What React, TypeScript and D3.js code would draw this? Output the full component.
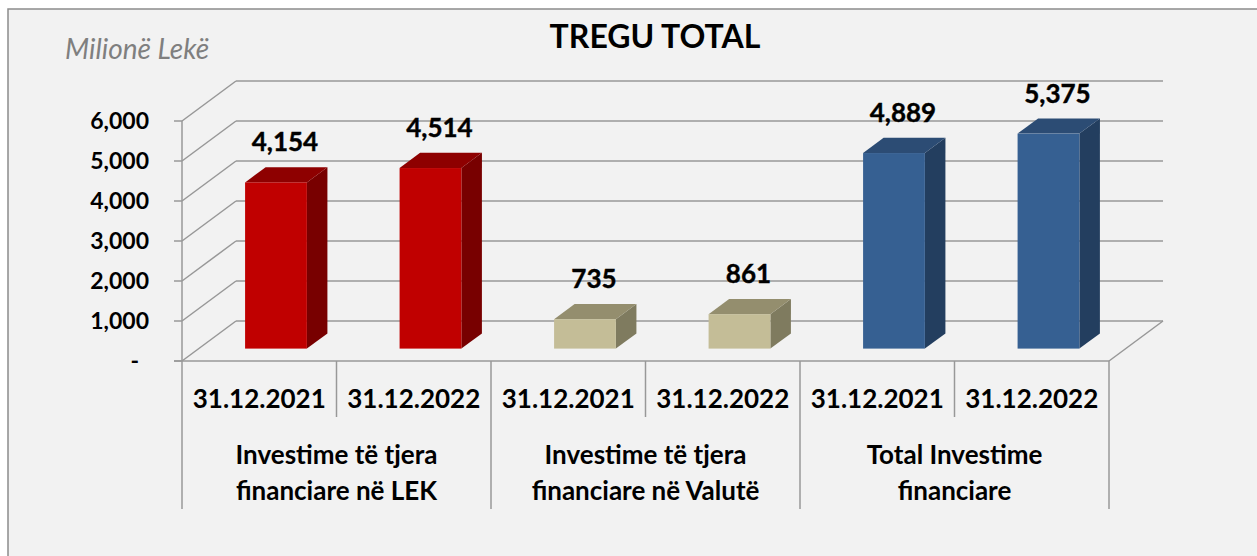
import React, { useEffect, useRef } from "react";
import * as d3 from "d3";

const groupLabels = [
  ["Investime të tjera", "financiare në LEK"],
  ["Investime të tjera", "financiare në Valutë"],
  ["Total Investime", "financiare"],
];
const dates = ["31.12.2021", "31.12.2022"];
const values = [4154, 4514, 735, 861, 4889, 5375];
const yTicks = [0, 1000, 2000, 3000, 4000, 5000, 6000];

const palette = [
  { front: "#c00000", top: "#8e0000", side: "#780000" },
  { front: "#c4bd97", top: "#948e6e", side: "#7f7b5f" },
  { front: "#366092", top: "#2c4c74", side: "#233e5f" },
];

const FONT = "Lato, 'Open Sans', sans-serif";

function TreguChart() {
  const ref = useRef<HTMLDivElement>(null);

  useEffect(() => {
    const width = 1257;
    const height = 556;

    d3.select(ref.current).select("svg").remove();

    const svg = d3
      .select(ref.current)
      .append("svg")
      .attr("width", width)
      .attr("height", height)
      .style("position", "absolute")
      .style("left", 0)
      .style("top", 0);

    svg.append("rect").attr("width", width).attr("height", height).attr("fill", "#fff");
    svg
      .append("rect")
      .attr("x", 8)
      .attr("y", 9)
      .attr("width", width + 20)
      .attr("height", height + 20)
      .attr("fill", "#f2f2f2")
      .attr("stroke", "#8c8c8c")
      .attr("stroke-width", 1.5);

    // category layout: one band per bar
    const cats = values.map((_, i) => i);
    const x = d3.scaleBand<number>().domain(cats).range([182, 1109]);
    const y = d3.scaleLinear().domain([0, 6000]).range([361, 121]);
    const step = x.step();

    // 3d depth of the plot box
    const dx = 54;
    const dy = -40;
    const f0 = 0.31;
    const f1 = 0.69;

    const grid = svg.append("g").attr("stroke", "#989898").attr("stroke-width", 1.5).attr("fill", "none");
    const xl = x(0)!;
    const xr = x(cats.length - 1)! + step;

    yTicks.forEach((t) => {
      grid.append("line").attr("x1", xl + dx).attr("y1", y(t) + dy).attr("x2", xr + dx).attr("y2", y(t) + dy);
      grid.append("line").attr("x1", xl).attr("y1", y(t)).attr("x2", xl + dx).attr("y2", y(t) + dy);
      grid.append("line").attr("x1", xl - 8).attr("y1", y(t)).attr("x2", xl).attr("y2", y(t));
    });
    grid.append("line").attr("x1", xr).attr("y1", y(0)).attr("x2", xr + dx).attr("y2", y(0) + dy);
    grid.append("line").attr("x1", xl - 8).attr("y1", y(0)).attr("x2", xr).attr("y2", y(0));
    grid.append("line").attr("x1", xl).attr("y1", y(6000)).attr("x2", xl).attr("y2", y(0));

    // separators under the axis
    d3.range(cats.length + 1).forEach((i) => {
      const px = xl + i * step;
      grid
        .append("line")
        .attr("x1", px)
        .attr("y1", y(0))
        .attr("x2", px)
        .attr("y2", i % 2 === 0 ? 509 : 417);
    });

    // bars
    const barW = step * 0.4;
    const bars = svg.append("g");
    values.forEach((v, i) => {
      const c = palette[Math.floor(i / 2)];
      const left = x(i)! + step / 2 - barW / 2 + f0 * dx;
      const right = left + barW;
      const top = y(v) + f0 * dy;
      const bottom = y(0) + f0 * dy;
      const ddx = (f1 - f0) * dx;
      const ddy = (f1 - f0) * dy;

      bars
        .append("polygon")
        .attr("points", [[right, top], [right + ddx, top + ddy], [right + ddx, bottom + ddy], [right, bottom]].join(" "))
        .attr("fill", c.side);
      bars
        .append("polygon")
        .attr("points", [[left, top], [left + ddx, top + ddy], [right + ddx, top + ddy], [right, top]].join(" "))
        .attr("fill", c.top);
      bars
        .append("rect")
        .attr("x", left)
        .attr("y", top)
        .attr("width", barW)
        .attr("height", bottom - top)
        .attr("fill", c.front);

      svg
        .append("text")
        .attr("x", left + barW / 2 + 9)
        .attr("y", top - 31)
        .attr("text-anchor", "middle")
        .attr("font-family", FONT)
        .attr("font-weight", "bold")
        .attr("font-size", 26)
        .attr("stroke", "#000")
        .attr("stroke-width", 0.4)
        .attr("fill", "#000")
        .text(d3.format(",")(v));
    });

    // y labels
    yTicks.forEach((t) => {
      svg
        .append("text")
        .attr("x", t === 0 ? 139 : 149)
        .attr("y", y(t) + 8)
        .attr("text-anchor", "end")
        .attr("font-family", FONT)
        .attr("font-weight", "bold")
        .attr("font-size", 23)
        .text(t === 0 ? "-" : d3.format(",")(t));
    });

    // date labels
    cats.forEach((i) => {
      svg
        .append("text")
        .attr("x", x(i)! + step / 2)
        .attr("y", 408)
        .attr("text-anchor", "middle")
        .attr("font-family", FONT)
        .attr("font-weight", "bold")
        .attr("font-size", 26)
        .text(dates[i % 2]);
    });

    // group labels
    groupLabels.forEach((lines, g) => {
      const cx = x(g * 2)! + step;
      lines.forEach((line, k) => {
        svg
          .append("text")
          .attr("x", cx)
          .attr("y", 464 + k * 36)
          .attr("text-anchor", "middle")
          .attr("font-family", FONT)
          .attr("font-weight", "bold")
          .attr("font-size", 26)
          .text(line);
      });
    });

    svg
      .append("text")
      .attr("x", 655)
      .attr("y", 48)
      .attr("text-anchor", "middle")
      .attr("font-family", FONT)
      .attr("font-weight", "bold")
      .attr("font-size", 32)
      .text("TREGU TOTAL");

    svg
      .append("text")
      .attr("x", 65)
      .attr("y", 59)
      .attr("font-family", FONT)
      .attr("font-style", "italic")
      .attr("font-size", 28)
      .attr("fill", "#7f7f7f")
      .text("Milionë Lekë");
  }, []);

  return <div ref={ref}></div>;
}

export default function App() {
  return <TreguChart />;
}
